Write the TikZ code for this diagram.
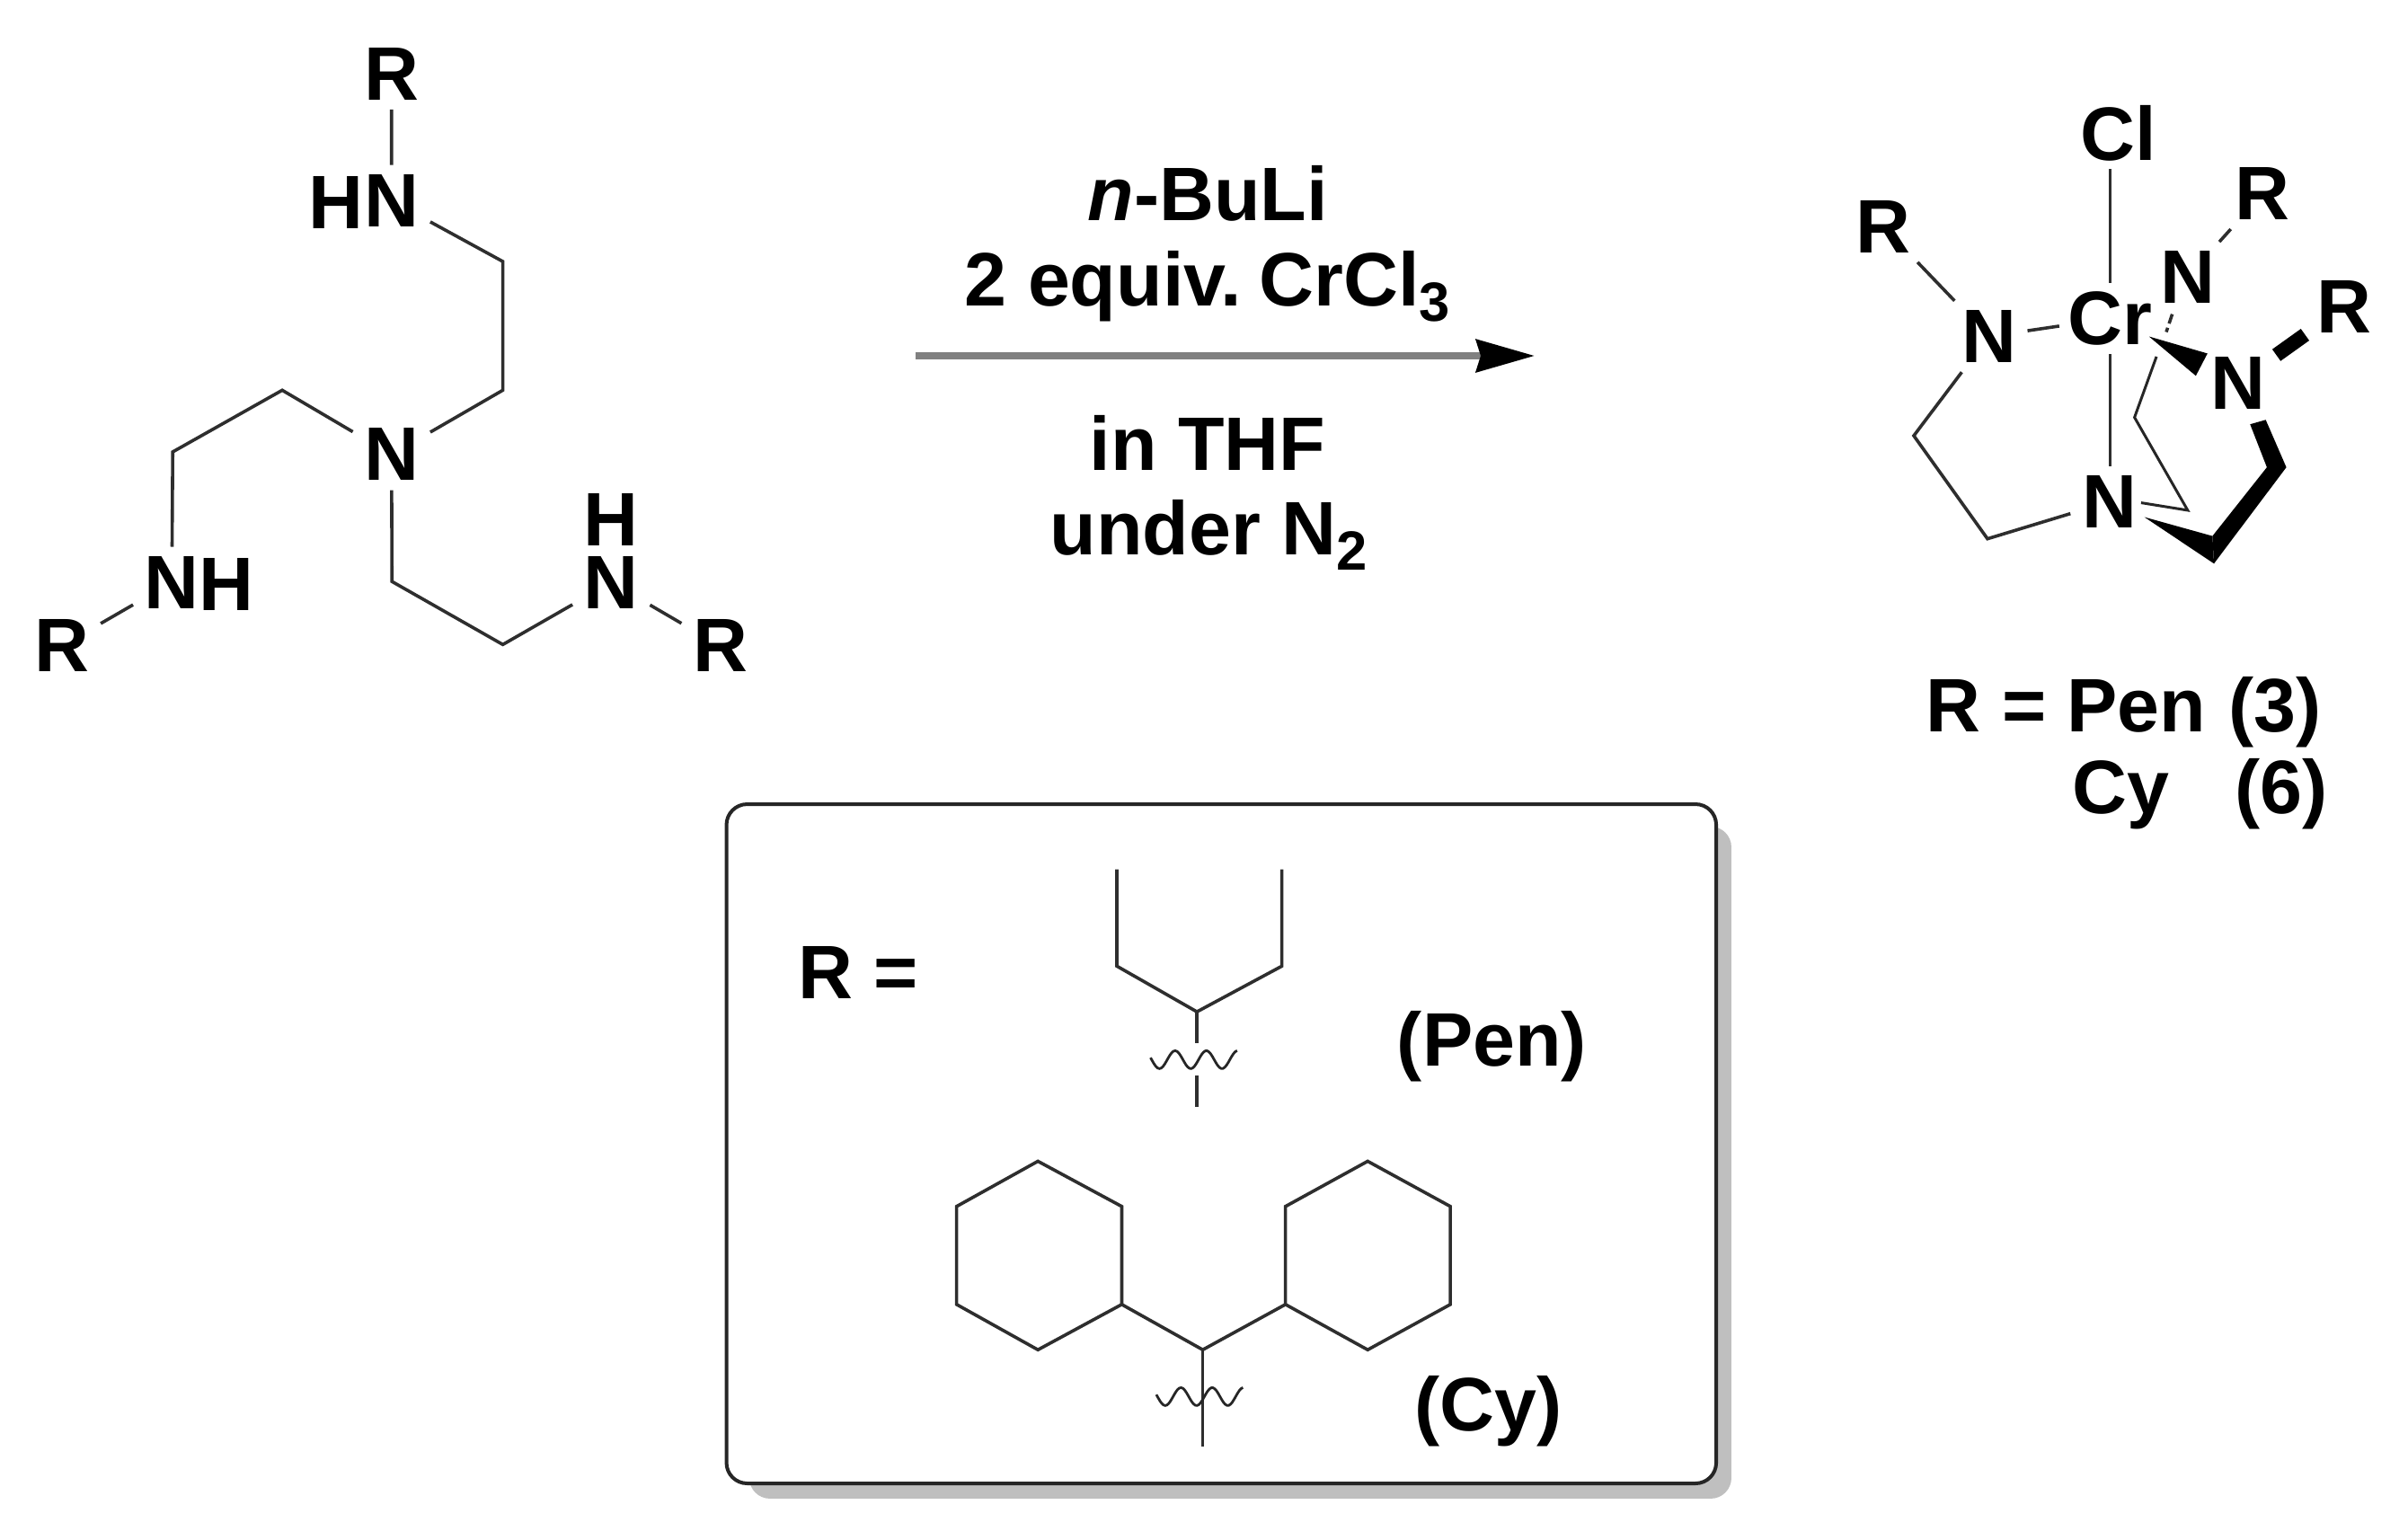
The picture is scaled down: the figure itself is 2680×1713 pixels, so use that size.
\documentclass[tikz,border=0pt]{standalone}
\usepackage{fontspec}
\setmainfont{Liberation Sans}
\usetikzlibrary{arrows.meta}
\newcommand{\subtxt}[1]{\raisebox{-5pt}{\fontsize{17.5pt}{20pt}\selectfont #1}}
\tikzset{
  x=0.1mm,y=-0.1mm,
  atom/.style={font=\fontsize{24pt}{28pt}\selectfont\bfseries,inner xsep=1.2mm,inner ysep=1mm,text=black},
  lab/.style={font=\fontsize{24pt}{28pt}\selectfont\bfseries,inner sep=0pt,anchor=base,text=black},
  labw/.style={lab,anchor=base west},
  bond/.style={line width=0.36mm,draw=black!82,line join=miter},
  hairbond/.style={line width=0.3mm,draw=black!85},
  heavy/.style={fill=black,draw=none},
  thickbond/.style={line width=1.6mm,draw=black},
  rxnarrow/.style={line width=0.8mm,draw=black!50,-{Stealth[length=6.5mm,width=3.6mm,inset=0.5mm,color=black]}},
  panel/.style={line width=0.4mm,draw=black!85,fill=white,rounded corners=2.3mm},
  panelshadow/.style={fill=black!25,draw=none,rounded corners=2.3mm},
  wave/.style={line width=0.28mm,draw=black!85,smooth}
}
\newcommand{\wavyline}{plot[domain=1283:1380,samples=50] (\x,{1180.5+10*cos((\x-1293)*10.2857)})}
\begin{document}
\begin{tikzpicture}
\useasboundingbox (0,0) rectangle (2680,1713);
% ---- tripodal amine
\begin{scope}[xshift=0.04mm,yshift=-0.05mm,xscale=0.994,yscale=0.995]
\node[atom] (Rt) at (438,82) {R};
\node[atom] (Nt) at (438,224) {N};
\node[lab,anchor=base east] (Ht) at (407,255) {H};
\node[atom] (Nc) at (438,508) {N};
\node[atom] (Nl) at (192,651) {N};
\node[labw] (Hl) at (222,682) {H};
\node[atom] (Rl) at (69,722) {R};
\node[atom,inner ysep=0.3mm] (Nr) at (684,651) {N};
\node[lab] (Hr) at (684,610) {H};
\node[atom] (Rr) at (806,722) {R};
\coordinate (a1) at (562.6,292);
\coordinate (a2) at (562.6,436);
\coordinate (b1) at (315.6,436);
\coordinate (b2) at (193,505);
\coordinate (c1) at (438.5,650);
\coordinate (c2) at (562.6,720.5);
\draw[bond] (Rt) -- (Nt);
\draw[bond] (Nt) -- (a1) -- (a2) -- (Nc);
\draw[bond] (Nc) -- (b1) -- (b2) -- (Nl);
\draw[bond] (Nc) -- (c1) -- (c2) -- (Nr);
\draw[bond] (Nl) -- (Rl);
\draw[bond] (Nr) -- (Rr);
\end{scope}
% ---- reaction arrow
\coordinate (arrS) at (1019,396);
\coordinate (arrE) at (1708,396);
\draw[rxnarrow] (arrS) -- (arrE);
\node[lab] (t1) at (1344,245) {\textit{n}-BuLi};
\node[lab] (t2) at (1344,340) {2 equiv.\hspace{0.24em}CrCl\subtxt{3}};
\node[lab] (t3) at (1344,523) {in THF};
\node[lab] (t4) at (1345,617) {under N\subtxt{2}};
% ---- chromium complex
\begin{scope}[xshift=1.4mm,xscale=0.993,yshift=-0.04mm,yscale=0.995]
\node[atom,inner ysep=0.8mm] (Cl) at (2360,149) {Cl};
\node[atom,inner ysep=0.9mm,inner xsep=0.9mm] (Cr) at (2351,356) {Cr};
\node[atom] (Nb) at (2350,561) {N};
\node[atom] (Rq) at (2097,253) {R};
\node[atom] (Nq) at (2215,376) {N};
\node[atom] (Nu) at (2438,310) {N};
\node[atom] (Ru) at (2522,216) {R};
\node[atom] (Nv) at (2494,428) {N};
\node[atom] (Rv) at (2613,343) {R};
\coordinate (d1) at (2131,487);
\coordinate (d2) at (2213.6,602.3);
\coordinate (e1) at (2403,398.5);
\coordinate (e2) at (2378.4,466.5);
\coordinate (e3) at (2438,570.4);
\coordinate (e4) at (2385.8,562);
\coordinate (h1) at (2420.7,351);
\coordinate (h2) at (2414,371);
\draw[bond] (Cl.south -| Cr.north) -- (Cr.north);
\draw[bond] (Cr.south) -- (Nb.north -| Cr.south);
\draw[bond] (Rq) -- (Nq);
\draw[bond] (Nq) -- (Cr);
\draw[bond] (Nq) -- (d1) -- (d2) -- (Nb);
\draw[bond] (Nu) -- (Ru);
\draw[bond,dash pattern=on 1.1mm off 0.5mm] (h1) -- (h2);
\draw[hairbond] (e1) -- (e2) -- (e3) -- (e4);
% wedge Cr to N
\fill[heavy] (2394.5,376) -- (2460,395) -- (2447,420) -- cycle;
% thick N-R
\draw[thickbond] (Nv) -- (Rv);
\fill[heavy] (2507.8,474.2) -- (2525.3,469.2) -- (2548.4,522.3) -- (2467.3,630) -- (2465.6,599.2) -- (2526.6,522.3) -- cycle;
\fill[heavy] (2389.3,578) -- (2465.6,599.2) -- (2467.3,630) -- cycle;
\end{scope}
% ---- labels under complex
\node[labw] (r1) at (2143,814) {R = Pen};
\node[labw] (r2) at (2480,814) {(3)};
\node[labw] (r3) at (2306,905) {Cy};
\node[labw] (r4) at (2487,905) {(6)};
% ---- panel
\begin{scope}[xshift=0.44mm,xscale=0.9946,yshift=-0.36mm,yscale=0.996]
\fill[panelshadow] (834,920) rectangle (1933,1671);
\draw[panel] (808.5,895) rectangle (1916,1654);
\node[labw] (req) at (888,1112) {R =};
\node[lab] (pen) at (1665,1188) {(Pen)};
\node[lab] (cy) at (1661,1595) {(Cy)};
% pentyl
\coordinate (p1) at (1245.4,968);
\coordinate (p2) at (1245.4,1076);
\coordinate (p3) at (1335,1127);
\coordinate (p4) at (1430,1076);
\coordinate (p5) at (1430,968);
\coordinate (p6) at (1335,1162);
\coordinate (p7) at (1335,1198);
\coordinate (p8) at (1335,1233);
\draw[bond] (p1) -- (p2) -- (p3) -- (p4) -- (p5);
\draw[bond] (p3) -- (p6);
\draw[bond] (p7) -- (p8);
\draw[wave] \wavyline;
% dicyclohexylmethyl
\draw[bond] (1157,1294) -- (1250.8,1344.5) -- (1250.8,1454) -- (1157,1504.7) -- (1066,1454) -- (1066,1344.5) -- cycle;
\draw[bond] (1526,1294) -- (1618.5,1344.5) -- (1618.5,1454) -- (1526,1504.7) -- (1434,1454) -- (1434,1344.5) -- cycle;
\coordinate (q0) at (1341.5,1504.7);
\coordinate (q1) at (1341.5,1612.5);
\draw[bond] (1250.8,1454) -- (q0) -- (1434,1454);
\draw[bond] (q0) -- (q1);
\draw[wave,shift={(6.5,376.5)}] \wavyline;
\end{scope}
\end{tikzpicture}
\end{document}
